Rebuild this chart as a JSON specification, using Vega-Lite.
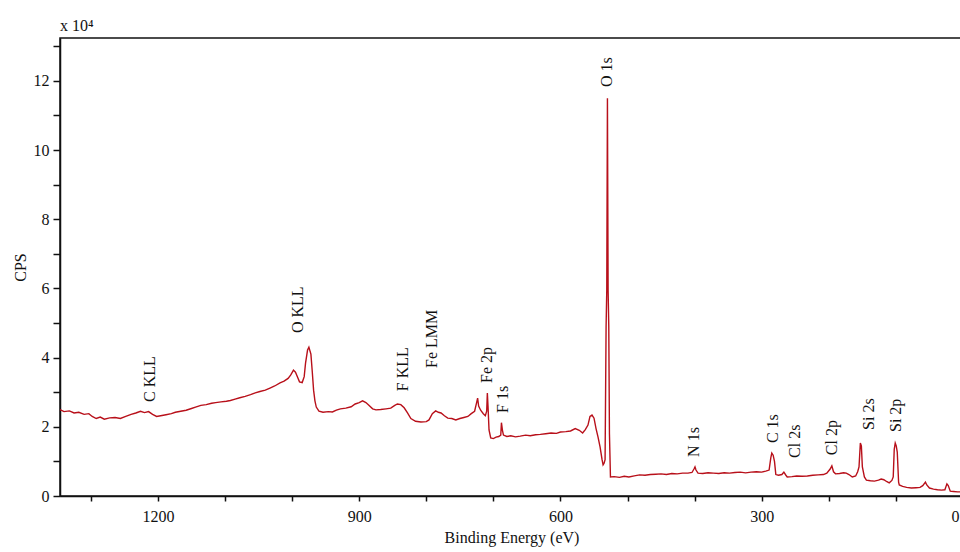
{
  "$schema": "https://vega.github.io/schema/vega-lite/v6.json",
  "autosize": {"type": "none"},
  "width": 903,
  "height": 458,
  "padding": {"left": 60, "top": 38, "right": 0, "bottom": 56},
  "background": "white",
  "config": {
    "view": {"stroke": "#111", "strokeWidth": 1.5},
    "font": "Liberation Serif"
  },
  "title": {"text": "x 10⁴", "anchor": "start", "frame": "group", "fontSize": 16, "fontWeight": "normal", "font": "Liberation Serif", "color": "#111", "offset": 4},
  "datasets": {
    "spec": [
      {"be": 1346, "cps": 2.50}, {"be": 1340, "cps": 2.44}, {"be": 1332, "cps": 2.46}, {"be": 1325, "cps": 2.40},
      {"be": 1318, "cps": 2.42}, {"be": 1310, "cps": 2.36}, {"be": 1303, "cps": 2.38}, {"be": 1298, "cps": 2.30},
      {"be": 1292, "cps": 2.24}, {"be": 1286, "cps": 2.28}, {"be": 1280, "cps": 2.22}, {"be": 1272, "cps": 2.26},
      {"be": 1264, "cps": 2.27}, {"be": 1256, "cps": 2.24}, {"be": 1248, "cps": 2.30}, {"be": 1240, "cps": 2.36},
      {"be": 1233, "cps": 2.40}, {"be": 1226, "cps": 2.45}, {"be": 1220, "cps": 2.41}, {"be": 1214, "cps": 2.44},
      {"be": 1208, "cps": 2.36}, {"be": 1202, "cps": 2.30}, {"be": 1196, "cps": 2.32}, {"be": 1188, "cps": 2.35},
      {"be": 1180, "cps": 2.38}, {"be": 1174, "cps": 2.42}, {"be": 1166, "cps": 2.45}, {"be": 1158, "cps": 2.48},
      {"be": 1150, "cps": 2.53}, {"be": 1144, "cps": 2.57}, {"be": 1136, "cps": 2.62}, {"be": 1128, "cps": 2.64},
      {"be": 1120, "cps": 2.68}, {"be": 1114, "cps": 2.70}, {"be": 1106, "cps": 2.72}, {"be": 1098, "cps": 2.74},
      {"be": 1092, "cps": 2.76}, {"be": 1085, "cps": 2.80}, {"be": 1078, "cps": 2.84}, {"be": 1070, "cps": 2.88},
      {"be": 1062, "cps": 2.93}, {"be": 1055, "cps": 2.98}, {"be": 1048, "cps": 3.02}, {"be": 1040, "cps": 3.06},
      {"be": 1033, "cps": 3.12}, {"be": 1026, "cps": 3.18}, {"be": 1018, "cps": 3.27}, {"be": 1012, "cps": 3.32},
      {"be": 1006, "cps": 3.40}, {"be": 1002, "cps": 3.50}, {"be": 998, "cps": 3.64}, {"be": 995, "cps": 3.58},
      {"be": 992, "cps": 3.44}, {"be": 989, "cps": 3.30}, {"be": 985, "cps": 3.28}, {"be": 982, "cps": 3.45},
      {"be": 980, "cps": 3.84}, {"be": 977, "cps": 4.22}, {"be": 975, "cps": 4.30}, {"be": 972, "cps": 4.10},
      {"be": 970, "cps": 3.60}, {"be": 968, "cps": 3.06}, {"be": 966, "cps": 2.75}, {"be": 964, "cps": 2.57},
      {"be": 960, "cps": 2.45}, {"be": 954, "cps": 2.42}, {"be": 946, "cps": 2.44}, {"be": 940, "cps": 2.43},
      {"be": 934, "cps": 2.48}, {"be": 928, "cps": 2.52}, {"be": 920, "cps": 2.54}, {"be": 912, "cps": 2.58},
      {"be": 906, "cps": 2.66}, {"be": 900, "cps": 2.70}, {"be": 895, "cps": 2.75}, {"be": 890, "cps": 2.70},
      {"be": 886, "cps": 2.63}, {"be": 880, "cps": 2.52}, {"be": 875, "cps": 2.49}, {"be": 868, "cps": 2.50},
      {"be": 860, "cps": 2.52}, {"be": 853, "cps": 2.54}, {"be": 847, "cps": 2.62}, {"be": 843, "cps": 2.66},
      {"be": 838, "cps": 2.64}, {"be": 833, "cps": 2.55}, {"be": 828, "cps": 2.40}, {"be": 823, "cps": 2.24},
      {"be": 816, "cps": 2.16}, {"be": 808, "cps": 2.14}, {"be": 800, "cps": 2.15}, {"be": 796, "cps": 2.20},
      {"be": 791, "cps": 2.38}, {"be": 786, "cps": 2.46}, {"be": 782, "cps": 2.42}, {"be": 778, "cps": 2.40},
      {"be": 773, "cps": 2.32}, {"be": 768, "cps": 2.25}, {"be": 762, "cps": 2.24}, {"be": 756, "cps": 2.20},
      {"be": 750, "cps": 2.24}, {"be": 744, "cps": 2.27}, {"be": 738, "cps": 2.30}, {"be": 733, "cps": 2.38},
      {"be": 728, "cps": 2.45}, {"be": 725, "cps": 2.70}, {"be": 723.5, "cps": 2.83}, {"be": 722, "cps": 2.60},
      {"be": 719, "cps": 2.48}, {"be": 715, "cps": 2.38}, {"be": 712, "cps": 2.32}, {"be": 710, "cps": 2.45},
      {"be": 709, "cps": 2.98}, {"be": 708, "cps": 2.60}, {"be": 706.5, "cps": 1.91}, {"be": 704, "cps": 1.68},
      {"be": 700, "cps": 1.66}, {"be": 696, "cps": 1.70}, {"be": 692, "cps": 1.72}, {"be": 689, "cps": 1.76},
      {"be": 688, "cps": 2.12}, {"be": 686.5, "cps": 1.90}, {"be": 685, "cps": 1.76}, {"be": 680, "cps": 1.72},
      {"be": 674, "cps": 1.74}, {"be": 667, "cps": 1.71}, {"be": 660, "cps": 1.73}, {"be": 652, "cps": 1.76},
      {"be": 645, "cps": 1.74}, {"be": 637, "cps": 1.77}, {"be": 630, "cps": 1.78}, {"be": 622, "cps": 1.80},
      {"be": 614, "cps": 1.82}, {"be": 606, "cps": 1.81}, {"be": 600, "cps": 1.85}, {"be": 592, "cps": 1.86},
      {"be": 585, "cps": 1.88}, {"be": 578, "cps": 1.95}, {"be": 572, "cps": 1.90}, {"be": 567, "cps": 1.82},
      {"be": 563, "cps": 1.92}, {"be": 559, "cps": 2.05}, {"be": 556, "cps": 2.30}, {"be": 553, "cps": 2.34},
      {"be": 550, "cps": 2.25}, {"be": 547, "cps": 1.95}, {"be": 544, "cps": 1.70}, {"be": 541, "cps": 1.42},
      {"be": 538, "cps": 1.05}, {"be": 536.5, "cps": 0.90}, {"be": 535, "cps": 0.95}, {"be": 533.5, "cps": 1.05},
      {"be": 532, "cps": 4.9}, {"be": 531, "cps": 5.95}, {"be": 530, "cps": 11.5}, {"be": 529, "cps": 5.95},
      {"be": 528, "cps": 4.9}, {"be": 527, "cps": 1.8}, {"be": 525.5, "cps": 0.55}, {"be": 520, "cps": 0.56},
      {"be": 512, "cps": 0.54}, {"be": 505, "cps": 0.57}, {"be": 498, "cps": 0.55}, {"be": 490, "cps": 0.58},
      {"be": 482, "cps": 0.61}, {"be": 474, "cps": 0.60}, {"be": 466, "cps": 0.62}, {"be": 458, "cps": 0.63},
      {"be": 450, "cps": 0.64}, {"be": 442, "cps": 0.62}, {"be": 434, "cps": 0.65}, {"be": 426, "cps": 0.64},
      {"be": 418, "cps": 0.66}, {"be": 410, "cps": 0.66}, {"be": 404, "cps": 0.68}, {"be": 401, "cps": 0.78},
      {"be": 399.5, "cps": 0.84}, {"be": 398, "cps": 0.75}, {"be": 395, "cps": 0.66}, {"be": 388, "cps": 0.65},
      {"be": 380, "cps": 0.67}, {"be": 372, "cps": 0.66}, {"be": 364, "cps": 0.65}, {"be": 356, "cps": 0.67},
      {"be": 348, "cps": 0.66}, {"be": 340, "cps": 0.68}, {"be": 332, "cps": 0.69}, {"be": 324, "cps": 0.67},
      {"be": 316, "cps": 0.69}, {"be": 308, "cps": 0.70}, {"be": 300, "cps": 0.69}, {"be": 294, "cps": 0.72},
      {"be": 289, "cps": 0.75}, {"be": 286.5, "cps": 1.10}, {"be": 285, "cps": 1.24}, {"be": 283, "cps": 1.18},
      {"be": 281, "cps": 1.00}, {"be": 279, "cps": 0.62}, {"be": 275, "cps": 0.60}, {"be": 270, "cps": 0.62},
      {"be": 267, "cps": 0.69}, {"be": 264, "cps": 0.60}, {"be": 262, "cps": 0.55}, {"be": 255, "cps": 0.56},
      {"be": 248, "cps": 0.58}, {"be": 240, "cps": 0.57}, {"be": 232, "cps": 0.58}, {"be": 224, "cps": 0.60},
      {"be": 216, "cps": 0.61}, {"be": 208, "cps": 0.62}, {"be": 203, "cps": 0.66}, {"be": 198, "cps": 0.78},
      {"be": 195.5, "cps": 0.87}, {"be": 193, "cps": 0.70}, {"be": 190, "cps": 0.64}, {"be": 184, "cps": 0.65},
      {"be": 178, "cps": 0.67}, {"be": 174, "cps": 0.66}, {"be": 170, "cps": 0.62}, {"be": 165, "cps": 0.55},
      {"be": 160, "cps": 0.58}, {"be": 157, "cps": 0.70}, {"be": 155, "cps": 0.84}, {"be": 153, "cps": 1.53},
      {"be": 151.5, "cps": 1.45}, {"be": 150, "cps": 0.84}, {"be": 147, "cps": 0.55}, {"be": 144, "cps": 0.46},
      {"be": 138, "cps": 0.44}, {"be": 132, "cps": 0.43}, {"be": 126, "cps": 0.46}, {"be": 122, "cps": 0.49},
      {"be": 118, "cps": 0.47}, {"be": 114, "cps": 0.42}, {"be": 110, "cps": 0.38}, {"be": 106, "cps": 0.45},
      {"be": 104, "cps": 0.55}, {"be": 102.5, "cps": 1.35}, {"be": 101, "cps": 1.53}, {"be": 99.5, "cps": 1.45},
      {"be": 98, "cps": 1.27}, {"be": 96, "cps": 0.40}, {"be": 95, "cps": 0.32}, {"be": 90, "cps": 0.28},
      {"be": 84, "cps": 0.25}, {"be": 77, "cps": 0.23}, {"be": 70, "cps": 0.24}, {"be": 64, "cps": 0.25},
      {"be": 60, "cps": 0.30}, {"be": 56, "cps": 0.40}, {"be": 54, "cps": 0.32}, {"be": 50, "cps": 0.23},
      {"be": 44, "cps": 0.20}, {"be": 38, "cps": 0.18}, {"be": 32, "cps": 0.17}, {"be": 27, "cps": 0.18},
      {"be": 24, "cps": 0.35}, {"be": 22, "cps": 0.30}, {"be": 19, "cps": 0.14}, {"be": 14, "cps": 0.13},
      {"be": 8, "cps": 0.12}, {"be": 3, "cps": 0.12}, {"be": 0, "cps": 0.11}
    ],
    "peaks": [
      {"label": "C KLL", "be": 1212, "cps": 2.72},
      {"label": "O KLL", "be": 991, "cps": 4.71},
      {"label": "F KLL", "be": 834, "cps": 3.03},
      {"label": "Fe LMM", "be": 791, "cps": 3.70},
      {"label": "Fe 2p", "be": 709, "cps": 3.27},
      {"label": "F 1s", "be": 686, "cps": 2.40},
      {"label": "O 1s", "be": 530, "cps": 11.82},
      {"label": "N 1s", "be": 401, "cps": 1.13},
      {"label": "C 1s", "be": 283, "cps": 1.53},
      {"label": "Cl 2s", "be": 250, "cps": 1.10},
      {"label": "Cl 2p", "be": 195, "cps": 1.18},
      {"label": "Si 2s", "be": 140, "cps": 1.91},
      {"label": "Si 2p", "be": 100, "cps": 1.85}
    ]
  },
  "encoding": {
    "x": {
      "field": "be", "type": "quantitative",
      "scale": {"domain": [0, 1346], "reverse": true, "nice": false, "zero": false},
      "axis": {
        "title": "Binding Energy (eV)",
        "values": [0, 100, 200, 300, 400, 500, 600, 700, 800, 900, 1000, 1100, 1200, 1300],
        "labelExpr": "datum.value % 300 == 0 ? datum.label : ''",
        "format": "d",
        "grid": false, "tickSize": 5, "tickWidth": 1.5, "tickColor": "#111",
        "domainColor": "#111", "domainWidth": 1.5,
        "labelFont": "Liberation Serif", "labelFontSize": 16, "labelColor": "#111", "labelPadding": 7,
        "labelFlush": true, "labelFlushOffset": -4, "labelOverlap": false,
        "titleFont": "Liberation Serif", "titleFontSize": 16, "titleFontWeight": "normal", "titleColor": "#111", "titlePadding": 5
      }
    },
    "y": {
      "field": "cps", "type": "quantitative",
      "scale": {"domain": [0, 13.24], "nice": false, "zero": true},
      "axis": {
        "title": "CPS",
        "values": [0, 1, 2, 3, 4, 5, 6, 7, 8, 9, 10, 11, 12, 13],
        "labelExpr": "datum.value % 2 == 0 ? datum.label : ''",
        "grid": false, "tickSize": 7, "tickWidth": 1.5, "tickColor": "#111",
        "domainColor": "#111", "domainWidth": 1.5,
        "labelFont": "Liberation Serif", "labelFontSize": 16, "labelColor": "#111", "labelPadding": 4,
        "labelOverlap": false, "labelFlush": false,
        "titleFont": "Liberation Serif", "titleFontSize": 16, "titleFontWeight": "normal", "titleColor": "#111", "titlePadding": 5
      }
    }
  },
  "layer": [
    {
      "data": {"name": "spec"},
      "mark": {"type": "line", "color": "#b8101a", "strokeWidth": 1.4}
    },
    {
      "data": {"name": "peaks"},
      "mark": {"type": "text", "angle": 270, "align": "left", "baseline": "middle", "font": "Liberation Serif", "fontSize": 16, "color": "#111"},
      "encoding": {"text": {"field": "label"}}
    }
  ]
}
